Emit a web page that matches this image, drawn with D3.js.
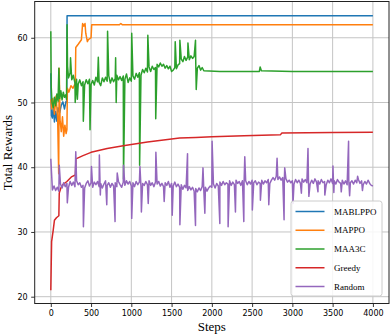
<!DOCTYPE html>
<html>
<head>
<meta charset="utf-8">
<script src="https://cdn.jsdelivr.net/npm/d3@7"></script>
<style>
  html, body { margin: 0; padding: 0; background: #fff; }
  svg { display: block; }
</style>
</head>
<body>
<svg id="chart" width="390" height="336"></svg>
<script>
// ---------- data ----------
const seriesNames = ["MABLPPO", "MAPPO", "MAA3C", "Greedy", "Random"];
const seriesColors = ["#1f77b4", "#ff7f0e", "#2ca02c", "#d62728", "#9467bd"];
const xTicks = [0, 500, 1000, 1500, 2000, 2500, 3000, 3500, 4000];
const yTicks = [20, 30, 40, 50, 60];

const mablppo = [[0,54.5],[8,48.0],[20,47.6],[32,49.5],[45,47.0],[60,48.6],[75,47.1],[90,49.2],[110,48.4],[130,49.6],[150,50.1],[170,49.0],[190,50.2],[198,50.0],[202,63.4],[4000,63.4]];

const mappo = [[0,50.5],[10,49.0],[25,50.6],[45,48.2],[65,51.0],[85,47.5],[98,39.0],[104,55.3],[115,47.3],[130,45.5],[145,47.8],[160,44.8],[175,46.5],[190,45.2],[200,45.8],[206,52.2],[225,51.6],[250,52.6],[275,52.2],[305,53.0],[310,58.5],[340,59.0],[380,59.7],[395,62.2],[410,61.8],[425,62.2],[434,60.7],[454,59.4],[466,59.7],[500,60.0],[508,62.0],[850,62.0],[870,62.2],[890,62.0],[4000,62.0]];

// MAA3C: early part, a base sampled every 20 steps (220..1900), spikes, and the flat tail
const maa3cEarly = [[0,61.0],[5,52.5],[15,50.0],[30,49.2],[45,50.8],[60,49.5],[75,51.3],[90,50.2],[100,55.3],[110,50.6],[125,51.8],[140,50.4],[155,51.6],[170,50.8],[185,51.2],[195,50.5],[202,62.0],[208,55.6]];
const maa3cBaseStart = 220, maa3cBaseStep = 20;
const maa3cBase = [
53.8,54.6,53.5,54.2,53.0,53.6,52.8,53.5,52.6,
53.2,52.7,53.5,52.9,53.6,52.8,53.4,52.7,53.9,53.2,
53.1,52.6,53.8,53.2,53.9,53.3,54.1,53.0,53.8,53.2,
53.7,54.2,53.5,54.0,53.4,54.1,53.6,54.4,53.1,53.8,
53.3,54.1,53.6,54.5,53.9,54.6,54.2,55.1,54.6,55.3,
54.7,55.5,54.8,55.6,55.1,55.4,55.9,55.5,56.1,55.6,
55.9,55.3,55.7,55.2,55.6,54.8,55.0,55.4,55.2,55.8,
56.0,56.7,56.3,57.1,56.5,57.0,56.6,57.2,56.8,57.1,
56.2,55.3,55.7,55.0,55.4,54.9];
const maa3cSpikes = [[245,56.9],[303,50.0],[330,50.5],[404,47.1],[487,45.8],[590,57.0],[705,61.0],[805,56.9],[812,50.0],[903,38.2],[1005,60.7],[1103,40.3],[1205,60.4],[1303,47.5],[1545,59.4],[1603,59.6],[1703,59.2],[1797,59.6],[1806,52.0]];
const maa3cTail = [[2100,54.8],[2590,54.8],[2600,55.5],[2615,54.9],[3000,54.8],[3500,54.8],[4000,54.8]];

const greedy = [[0,21.0],[10,28.5],[30,30.3],[45,31.8],[70,32.2],[100,32.5],[105,36.0],[125,36.8],[150,37.3],[200,37.8],[255,38.5],[305,38.8],[312,41.3],[400,41.8],[500,42.3],[700,42.9],[900,43.3],[1000,43.5],[1200,43.9],[1400,44.2],[1600,44.5],[1800,44.6],[2000,44.7],[2400,44.85],[2850,45.0],[2870,45.3],[3500,45.35],[4000,45.4]];

// Random: base value every 20 steps (0..4000) plus the sharp spikes
const randomBaseStep = 20;
const randomBase = [
41.3,36.5,37.1,36.4,36.9,36.3,37.4,36.8,37.6,37.0,
37.5,36.9,37.8,37.2,37.7,37.0,37.9,37.3,37.6,36.9,
37.2,36.8,37.5,37.9,37.1,37.6,36.9,37.7,37.3,37.8,
37.0,37.5,36.8,37.4,37.9,37.2,37.6,36.9,37.5,37.1,
37.6,37.0,37.8,37.3,36.9,37.7,37.2,37.9,37.4,37.8,
37.1,37.6,37.0,37.8,37.3,37.7,36.9,37.5,37.2,37.8,
37.3,37.9,37.2,37.6,37.0,37.7,37.4,37.8,37.1,37.5,
37.0,37.6,37.2,37.8,36.9,37.5,37.1,37.7,37.0,37.4,
36.9,37.3,36.6,37.2,36.8,36.4,37.0,36.5,36.9,36.3,
36.7,36.2,36.8,36.4,37.0,36.5,36.9,36.3,36.8,37.1,
36.9,37.4,36.8,37.5,37.1,37.7,37.2,37.8,37.3,37.6,
37.4,37.9,37.2,37.7,37.3,38.0,37.5,37.8,37.2,37.9,
37.5,37.9,37.3,37.8,37.4,38.0,37.6,37.9,37.3,37.7,
37.5,38.0,37.4,37.9,37.6,38.1,37.5,38.0,38.4,38.0,
38.6,38.1,38.5,38.0,38.4,37.9,38.2,37.7,38.0,37.6,
37.9,37.4,38.1,37.6,38.0,37.5,38.2,37.7,38.1,37.6,
37.9,37.4,38.0,37.5,38.2,37.7,37.9,37.4,38.1,37.6,
37.8,37.3,38.0,37.6,38.2,37.5,37.9,37.4,38.1,37.7,
37.5,38.0,37.4,37.9,37.3,38.1,37.6,37.9,37.4,38.0,
37.6,38.1,37.5,37.9,37.3,37.8,37.4,38.0,37.5,37.2,
37.1];
const randomSpikes = [[105,40.3],[205,34.5],[310,42.4],[405,30.8],[505,40.1],[603,41.9],[615,35.7],[695,34.2],[798,31.6],[825,39.1],[903,40.3],[1005,32.1],[1107,40.1],[1125,33.1],[1210,34.4],[1305,42.3],[1408,34.7],[1508,32.6],[1603,31.1],[1698,42.1],[1797,31.0],[1890,39.9],[1913,32.9],[2003,44.0],[2099,31.3],[2202,30.8],[2293,33.1],[2397,31.6],[2409,41.6],[2503,33.4],[2603,34.9],[2707,34.2],[2810,41.4],[2897,31.9],[2905,39.9],[3008,34.4],[3112,36.0],[3194,42.9],[3205,35.5],[3318,36.2],[3403,35.7],[3504,40.2],[3515,36.1],[3607,36.2],[3698,44.0],[3711,35.6],[3810,38.6],[3870,36.4]];

// ---------- assemble series ----------
const bySteps = (a, b) => a[0] - b[0];
const maa3c = maa3cEarly
  .concat(maa3cBase.map((v, i) => [maa3cBaseStart + i * maa3cBaseStep, v]))
  .concat(maa3cSpikes)
  .sort(bySteps)
  .concat(maa3cTail);
const random = randomBase.map((v, i) => [i * randomBaseStep, v])
  .concat(randomSpikes)
  .sort(bySteps);

const allSeries = [mablppo, mappo, maa3c, greedy, random];

// ---------- layout ----------
const svg = d3.select("#chart");
const plot = { left: 34.7, right: 389, top: 1.5, bottom: 303.5 };

const x = d3.scaleLinear().domain([-200, 4200]).range([plot.left, plot.right]);
const y = d3.scaleLinear().domain([18.95, 65.6]).range([plot.bottom, plot.top]);

// grid
const grid = svg.append("g");
grid.selectAll("line.gx").data(xTicks).enter().append("line")
  .attr("x1", d => x(d)).attr("x2", d => x(d))
  .attr("y1", plot.top).attr("y2", plot.bottom)
  .attr("stroke", "#c4c4c4").attr("stroke-width", 1);
grid.selectAll("line.gy").data(yTicks).enter().append("line")
  .attr("x1", plot.left).attr("x2", plot.right)
  .attr("y1", d => y(d)).attr("y2", d => y(d))
  .attr("stroke", "#c4c4c4").attr("stroke-width", 1);

// clip
svg.append("clipPath").attr("id", "clip").append("rect")
  .attr("x", plot.left).attr("y", plot.top)
  .attr("width", plot.right - plot.left).attr("height", plot.bottom - plot.top);

const line = d3.line().x(d => x(d[0])).y(d => y(d[1]));
const lines = svg.append("g").attr("clip-path", "url(#clip)");
allSeries.forEach((s, i) => {
  lines.append("path").datum(s)
    .attr("d", line)
    .attr("fill", "none")
    .attr("stroke", seriesColors[i])
    .attr("stroke-width", 1.5)
    .attr("stroke-linejoin", "round");
});

// axes
const fontTick = "DejaVu Sans, sans-serif";
const xAxis = svg.append("g").attr("transform", `translate(0,${plot.bottom})`)
  .call(d3.axisBottom(x).tickValues(xTicks).tickSize(3.5).tickPadding(3).tickFormat(d3.format("d")));
const yAxis = svg.append("g").attr("transform", `translate(${plot.left},0)`)
  .call(d3.axisLeft(y).tickValues(yTicks).tickSize(3.5).tickPadding(3.5).tickFormat(d3.format("d")));
[xAxis, yAxis].forEach(a => {
  a.select(".domain").remove();
  a.selectAll(".tick line").attr("stroke", "#000").attr("stroke-width", 0.8);
  a.selectAll(".tick text").attr("font-family", fontTick).attr("font-size", 8).attr("fill", "#000");
});

// frame
svg.append("rect")
  .attr("x", plot.left).attr("y", plot.top)
  .attr("width", plot.right - plot.left).attr("height", plot.bottom - plot.top)
  .attr("fill", "none").attr("stroke", "#222").attr("stroke-width", 1);

// axis labels
const serif = "Liberation Serif, Times New Roman, serif";
svg.append("text").attr("x", (plot.left + plot.right) / 2).attr("y", 330.5)
  .attr("text-anchor", "middle").attr("font-family", serif).attr("font-size", 13)
  .attr("fill", "#000").text("Steps");
svg.append("text").attr("transform", `translate(11.5,${(plot.top + plot.bottom) / 2}) rotate(-90)`)
  .attr("text-anchor", "middle").attr("font-family", serif).attr("font-size", 13)
  .attr("fill", "#000").text("Total Rewards");

// legend
const lg = svg.append("g");
lg.append("rect").attr("x", 291).attr("y", 201).attr("width", 91).attr("height", 95)
  .attr("rx", 2.5).attr("fill", "#fff").attr("fill-opacity", 0.85)
  .attr("stroke", "#cccccc").attr("stroke-width", 1);
seriesNames.forEach((name, i) => {
  const yy = 211.5 + i * 18.75;
  lg.append("line").attr("x1", 295.5).attr("x2", 324.5).attr("y1", yy).attr("y2", yy)
    .attr("stroke", seriesColors[i]).attr("stroke-width", 1.5);
  lg.append("text").attr("x", 334).attr("y", yy + 3.2)
    .attr("font-family", serif).attr("font-size", 9).attr("fill", "#000").text(name);
});
</script>
</body>
</html>
